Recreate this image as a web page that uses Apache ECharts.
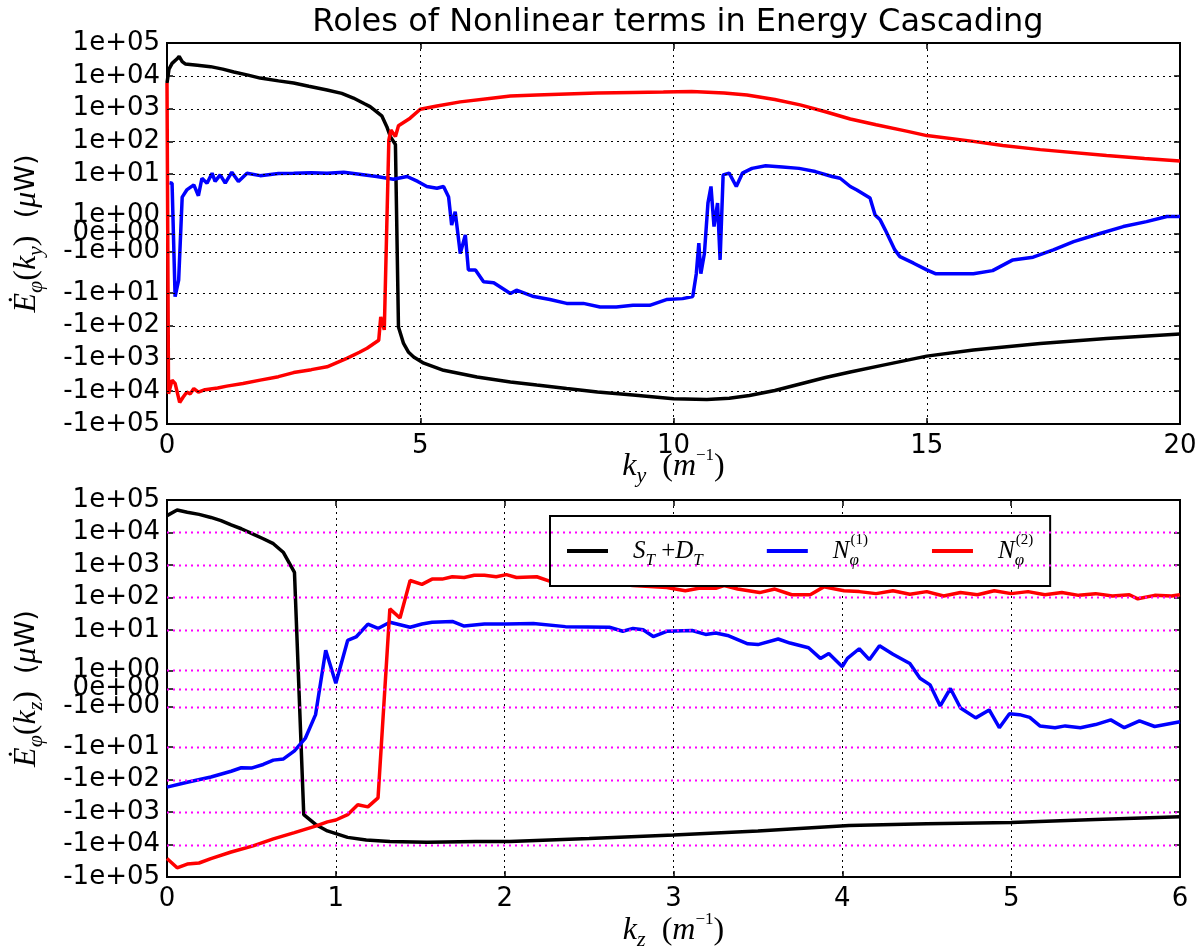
<!DOCTYPE html>
<html>
<head>
<meta charset="utf-8">
<script src="https://cdn.jsdelivr.net/npm/echarts@6/dist/echarts.min.js"></script>
<style>
  html, body { margin: 0; padding: 0; background: #fff; }
  #chart { width: 1204px; height: 952px; }
</style>
</head>
<body>
<div id="chart"></div>
<script>
// ---- data (values in uW) ----
const KY_ST = [0, 0.04, 0.1, 0.2, 0.24, 0.3, 0.36, 0.6, 0.86, 1.1, 1.32, 1.6, 1.84, 2.2, 2.5, 2.8, 3.16, 3.45, 3.68, 3.9, 4.01, 4.11, 4.24, 4.34, 4.41, 4.51, 4.57, 4.67, 4.77, 4.87, 5.07, 5.46, 6.12, 6.78, 7.3, 7.89, 8.5, 9.2, 10, 10.66, 11.1, 11.5, 12, 12.5, 13, 13.49, 14.14, 15, 15.92, 17.24, 18.55, 20]
const E_KY_ST = [6e3, 1.6e4, 2.4e4, 3.3e4, 3.9e4, 2.7e4, 2.3e4, 2.1e4, 1.9e4, 1.6e4, 1.3e4, 1.05e4, 8.5e3, 7e3, 6e3, 4.8e3, 3.7e3, 2.9e3, 2.1e3, 1.4e3, 1150, 870, 600, 280, 140, 80, -110, -350, -650, -900, -1.4e3, -2.3e3, -3.7e3, -5.2e3, -6.5e3, -8.3e3, -1.05e4, -1.3e4, -1.7e4, -1.8e4, -1.65e4, -1.35e4, -9.5e3, -6e3, -3.8e3, -2.6e3, -1.6e3, -850, -550, -350, -245, -180]

const KY_N1 = [0.05, 0.1, 0.16, 0.23, 0.3, 0.39, 0.53, 0.62, 0.69, 0.79, 0.89, 0.95, 1.05, 1.15, 1.28, 1.41, 1.58, 1.84, 2.2, 2.5, 2.85, 3.16, 3.49, 3.8, 4.14, 4.47, 4.74, 4.95, 5.13, 5.33, 5.46, 5.56, 5.62, 5.69, 5.79, 5.89, 5.95, 6.09, 6.25, 6.45, 6.78, 6.9, 7.24, 7.56, 7.89, 8.22, 8.55, 8.87, 9.2, 9.53, 9.86, 10.18, 10.38, 10.45, 10.5, 10.54, 10.61, 10.68, 10.74, 10.8, 10.87, 10.92, 10.98, 11.1, 11.24, 11.36, 11.55, 11.82, 12.15, 12.48, 12.8, 13.13, 13.29, 13.49, 13.62, 13.88, 13.98, 14.08, 14.18, 14.37, 14.47, 14.74, 15, 15.17, 15.59, 15.92, 16.3, 16.7, 17.1, 17.5, 17.9, 18.42, 18.88, 19.34, 19.74, 20]
const E_KY_N1 = [5.5, 5.3, -13, -4.1, 2, 3.3, 4.7, 2.2, 7.5, 5.3, 10.7, 6, 9.5, 5.3, 11.5, 6, 10.7, 9, 10.5, 10.7, 11, 10.7, 11.5, 10, 8.5, 7, 8.5, 6, 4.2, 3.7, 4.2, 2, 0.47, 1.2, -1.1, -0.08, -2, -2, -4.6, -4.9, -10.5, -8.3, -13, -16, -21, -21, -27, -27, -24, -24, -16, -15, -13, -2.6, -0.53, -2.6, -1.1, 1.67, 4.2, 0.38, 1.67, -1.45, 9.5, 10.7, 4.2, 10.7, 15, 18, 16.5, 15, 12, 8.5, 7.5, 4.2, 3.3, 1.95, 1.02, 0.75, 0.2, -0.9, -1.27, -1.63, -2, -2.6, -2.6, -2.6, -2.1, -1.45, -1.3, -0.9, -0.45, 0, 0.38, 0.65, 0.93, 0.93]

const KY_N2 = [0, 0.03, 0.1, 0.16, 0.25, 0.32, 0.39, 0.46, 0.53, 0.62, 0.75, 1, 1.18, 1.5, 1.84, 2.2, 2.5, 2.85, 3.16, 3.55, 3.8, 3.95, 4.18, 4.22, 4.29, 4.38, 4.42, 4.51, 4.57, 4.8, 5, 5.33, 5.79, 6.45, 6.78, 7.3, 7.89, 8.5, 9.2, 9.8, 10.36, 11, 11.45, 12, 12.5, 13, 13.49, 14, 14.6, 15, 15.92, 16.5, 17.24, 18.55, 19.3, 20]
const E_KY_N2 = [6e3, -1.2e4, -4.6e3, -5.8e3, -2.2e4, -1.5e4, -1.07e4, -1.2e4, -8.3e3, -1.07e4, -9e3, -8e3, -7e3, -5.8e3, -4.6e3, -3.6e3, -2.7e3, -2.2e3, -1.8e3, -1e3, -650, -490, -280, -54, -135, 110, 220, 140, 300, 510, 950, 1.2e3, 1.6e3, 2.1e3, 2.4e3, 2.6e3, 2.8e3, 3e3, 3.1e3, 3.2e3, 3.3e3, 3e3, 2.6e3, 1.9e3, 1.3e3, 800, 480, 320, 205, 150, 100, 75, 56, 37, 30, 25]

const KZ_ST = [0, 0.06, 0.12, 0.19, 0.26, 0.32, 0.38, 0.44, 0.51, 0.57, 0.63, 0.69, 0.755, 0.81, 0.88, 0.95, 1.07, 1.18, 1.32, 1.54, 1.83, 2.03, 2.5, 3, 3.5, 4.04, 4.5, 5, 5.5, 6]
const E_KZ_ST = [3.3e4, 4.9e4, 4.2e4, 3.6e4, 2.9e4, 2.3e4, 1.7e4, 1.3e4, 8.9e3, 6.4e3, 4.5e3, 2.4e3, 590, -1.2e3, -2.4e3, -3.8e3, -6e3, -7.2e3, -8e3, -8.5e3, -8.1e3, -8e3, -6.5e3, -5.1e3, -3.8e3, -2.6e3, -2.3e3, -2.1e3, -1.7e3, -1.4e3]

const KZ_N1 = [0, 0.12, 0.26, 0.38, 0.44, 0.5, 0.57, 0.63, 0.69, 0.755, 0.82, 0.88, 0.94, 1, 1.07, 1.12, 1.19, 1.25, 1.32, 1.44, 1.51, 1.57, 1.69, 1.76, 1.88, 2.01, 2.17, 2.36, 2.62, 2.7, 2.76, 2.82, 2.88, 2.96, 3.11, 3.19, 3.25, 3.32, 3.44, 3.5, 3.62, 3.69, 3.8, 3.87, 3.92, 4, 4.03, 4.1, 4.16, 4.22, 4.3, 4.4, 4.46, 4.52, 4.58, 4.64, 4.7, 4.79, 4.87, 4.93, 4.99, 5.05, 5.11, 5.17, 5.26, 5.32, 5.41, 5.5, 5.59, 5.67, 5.76, 5.85, 6]
const E_KZ_N1 = [-170, -120, -83, -55, -43, -44, -34, -25, -23, -13, -5.2, -1.45, 2.35, 0.29, 4.7, 6, 15, 11, 17, 12, 15, 17, 18, 13, 15, 15, 15.5, 12.5, 12, 9, 11, 10, 6.2, 9, 9.5, 7.2, 8, 6.7, 3.7, 3.5, 5.2, 3.9, 2.8, 1.67, 1.94, 1.21, 1.67, 2.6, 1.6, 3.2, 1.9, 1.39, 0.57, 0.2, -0.97, 0, -1.08, -1.63, -1.19, -2.5, -1.4, -1.45, -1.6, -2.2, -2.5, -2.2, -2.5, -2, -1.74, -2.5, -1.8, -2.3, -1.85]

const KZ_N2 = [0, 0.06, 0.12, 0.19, 0.26, 0.38, 0.51, 0.63, 0.755, 0.88, 0.95, 1, 1.07, 1.13, 1.19, 1.25, 1.32, 1.38, 1.44, 1.51, 1.57, 1.63, 1.69, 1.76, 1.82, 1.88, 1.95, 2.01, 2.07, 2.19, 2.27, 2.4, 2.55, 2.76, 2.96, 3.07, 3.15, 3.25, 3.3, 3.38, 3.51, 3.6, 3.7, 3.81, 3.89, 4.01, 4.1, 4.2, 4.3, 4.4, 4.5, 4.6, 4.7, 4.8, 4.9, 5, 5.1, 5.2, 5.3, 5.4, 5.5, 5.6, 5.7, 5.75, 5.85, 5.95, 6]
const E_KZ_N2 = [-2.7e4, -5.2e4, -4e4, -3.7e4, -2.7e4, -1.7e4, -1.1e4, -6.7e3, -4.3e3, -2.7e3, -2e3, -1.75e3, -1.2e3, -590, -690, -365, 44, 23, 330, 250, 365, 365, 430, 410, 480, 480, 430, 500, 410, 430, 310, 330, 290, 230, 200, 160, 190, 190, 230, 180, 140, 180, 120, 120, 210, 160, 150, 130, 160, 125, 150, 110, 140, 120, 160, 130, 150, 120, 140, 115, 130, 110, 120, 90, 115, 110, 120]

const Y_TICK_VALUES = [1e5, 1e4, 1e3, 1e2, 10, 1, 0, -1, -10, -100, -1e3, -1e4, -1e5]
const Y_TICK_LABELS = ['1e+05', '1e+04', '1e+03', '1e+02', '1e+01', '1e+00', '0e+00', '-1e+00', '-1e+01', '-1e+02', '-1e+03', '-1e+04', '-1e+05']

const SERIES_NAMES = ['ST', 'N1', 'N2']
const COLORS = ['#000000', '#0000ff', '#ff0000']

// symlog scale like old matplotlib (linthresh 2, linscale 1), in decade units
const LINTHRESH = 2
const LINSCALE_ADJ = 1 / (1 - 1 / 10)
function symlog(v) {
  const a = Math.abs(v)
  if (a <= LINTHRESH) return v * LINSCALE_ADJ / LINTHRESH
  return Math.sign(v) * (LINSCALE_ADJ + Math.log10(a / LINTHRESH))
}
const Y_MAX = symlog(1e5)
const TICK_T = Y_TICK_VALUES.map(symlog)

const SERIF = 'Liberation Serif'
const SANS = 'DejaVu Sans'
const NAME_RICH = {
  it:  { fontFamily: SERIF, fontStyle: 'italic', fontSize: 32, lineHeight: 40, color: '#000' },
  n:   { fontFamily: SERIF, fontSize: 32, lineHeight: 40, color: '#000' },
  s:   { fontFamily: SANS, fontSize: 27, lineHeight: 40, color: '#000' },
  sub: { fontFamily: SERIF, fontStyle: 'italic', fontSize: 22, lineHeight: 26, verticalAlign: 'bottom', color: '#000' },
  sup: { fontFamily: SERIF, fontSize: 17, lineHeight: 22, verticalAlign: 'top', color: '#000' },
}
const LEGEND_RICH = {
  it:   { fontFamily: SERIF, fontStyle: 'italic', fontSize: 25, lineHeight: 36, color: '#000' },
  n:    { fontFamily: SERIF, fontSize: 25, lineHeight: 36, color: '#000' },
  sub:  { fontFamily: SERIF, fontStyle: 'italic', fontSize: 17, lineHeight: 20, verticalAlign: 'bottom', color: '#000' },
  subz: { fontFamily: SERIF, fontStyle: 'italic', fontSize: 17, lineHeight: 20, verticalAlign: 'bottom', width: 1, color: '#000' },
  sup:  { fontFamily: SERIF, fontSize: 15, lineHeight: 20, verticalAlign: 'top', color: '#000' },
  sp:   { width: 20, fontSize: 10 },
}
const LEGEND_TEXT = {
  ST: '{sp| }{it|S}{sub|T}{n| +}{it|D}{sub|T}',
  N1: '{sp| }{it|N}{subz|φ}{sup|(1)}',
  N2: '{sp| }{it|N}{subz|φ}{sup|(2)}',
}

const GRID_LINE_STYLE = { color: '#000', width: 1, type: [2, 4] }
const tick = { inside: true, length: 6, lineStyle: { color: '#000', width: 1.5 } }

function xAxes(gi, max, interval, sub, nameGap) {
  const base = { type: 'value', gridIndex: gi, min: 0, max, interval, axisLine: { show: false, onZero: false } }
  return [
    { ...base, position: 'bottom',
      name: `{it|k}{sub|${sub}}{n|  (}{it|m}{sup|−1}{n|)}`,
      nameLocation: 'middle', nameGap, nameMoveOverlap: false,
      nameTextStyle: { rich: NAME_RICH },
      axisTick: tick,
      axisLabel: { color: '#000', fontSize: 26, fontFamily: SANS, margin: 9 },
      splitLine: { show: true, lineStyle: { ...GRID_LINE_STYLE } } },
    { ...base, position: 'top', axisTick: tick, axisLabel: { show: false }, splitLine: { show: false } },
  ]
}

function yAxes(gi, sub) {
  const base = { type: 'value', gridIndex: gi, min: -Y_MAX, max: Y_MAX, axisLine: { show: false, onZero: false } }
  return [
    { ...base, position: 'left',
      name: `{it|Ė}{sub|φ}{n|(}{it|k}{sub|${sub}}{n|)}{s|  (}{it|μ}{s|W)}`,
      nameLocation: 'middle', nameRotate: 90, nameGap: 120, nameMoveOverlap: false,
      nameTextStyle: { rich: NAME_RICH },
      axisTick: { ...tick, customValues: TICK_T },
      axisLabel: {
        customValues: TICK_T, color: '#000', fontSize: 26, fontFamily: SANS, margin: 7,
        formatter: val => {
          const i = TICK_T.findIndex(t => Math.abs(t - val) < 1e-9)
          return i >= 0 ? Y_TICK_LABELS[i] : ''
        },
      },
      splitLine: { show: false } },
    { ...base, position: 'right', axisTick: { ...tick, customValues: TICK_T },
      axisLabel: { show: false, customValues: TICK_T }, splitLine: { show: false } },
  ]
}

function lines(gi, xsList, valsList) {
  return SERIES_NAMES.map((name, i) => ({
    name, type: 'line', xAxisIndex: gi * 2, yAxisIndex: gi * 2, z: 3,
    showSymbol: false, symbol: 'none', smooth: false,
    color: COLORS[i],
    lineStyle: { color: COLORS[i], width: 3.5 },
    data: xsList[i].map((x, j) => [x, symlog(valsList[i][j])]),
  }))
}

const chart = echarts.init(document.getElementById('chart'), null, { renderer: 'canvas' })
chart.setOption({
  animation: false,
  backgroundColor: '#fff',
  title: {
    text: 'Roles of Nonlinear terms in Energy Cascading',
    left: 673, textAlign: 'center', top: 2,
    textStyle: { fontFamily: SANS, fontSize: 32, fontWeight: 'normal', color: '#000' },
  },
  legend: {
    data: SERIES_NAMES,
    left: 550, top: 516,
    orient: 'horizontal',
    icon: 'rect', itemWidth: 41, itemHeight: 4, itemGap: 64,
    padding: [17, 17, 17, 17],
    backgroundColor: '#fff', borderColor: '#000', borderWidth: 2, borderRadius: 0,
    selectedMode: false, z: 10,
    formatter: name => LEGEND_TEXT[name],
    textStyle: { rich: LEGEND_RICH },
  },
  grid: [
    { left: 167, top: 43, width: 1013, height: 381, show: true, borderColor: '#000', borderWidth: 2, backgroundColor: 'transparent' },
    { left: 167, top: 500, width: 1013, height: 381, show: true, borderColor: '#000', borderWidth: 2, backgroundColor: 'transparent' },
  ],
  xAxis: [...xAxes(0, 20, 5, 'y', 23), ...xAxes(1, 6, 1, 'z', 34)],
  yAxis: [...yAxes(0, 'y'), ...yAxes(1, 'z')],
  series: [
    ...lines(0, [KY_ST, KY_N1, KY_N2], [E_KY_ST, E_KY_N1, E_KY_N2]),
    ...lines(1, [KZ_ST, KZ_N1, KZ_N2], [E_KZ_ST, E_KZ_N1, E_KZ_N2]),
  ],
})

// horizontal dotted grid at the symlog ticks, placed through the axis scales
const X_MAX = [20, 6]
const gridLines = []
X_MAX.forEach((xmax, gi) => {
  const finder = { xAxisIndex: gi * 2, yAxisIndex: gi * 2 }
  TICK_T.slice(1, -1).forEach(t => {
    const p1 = chart.convertToPixel(finder, [0, t])
    const p2 = chart.convertToPixel(finder, [xmax, t])
    const yy = Math.round(p1[1]) + 0.5
    gridLines.push({
      type: 'line', silent: true, z: 100,
      shape: { x1: p1[0], y1: yy, x2: p2[0], y2: yy },
      style: { stroke: gi === 0 ? '#000' : '#ff00ff', lineWidth: gi === 0 ? 1 : 2, lineDash: [2, 4] },
    })
  })
})
chart.setOption({ graphic: gridLines })
</script>
</body>
</html>
